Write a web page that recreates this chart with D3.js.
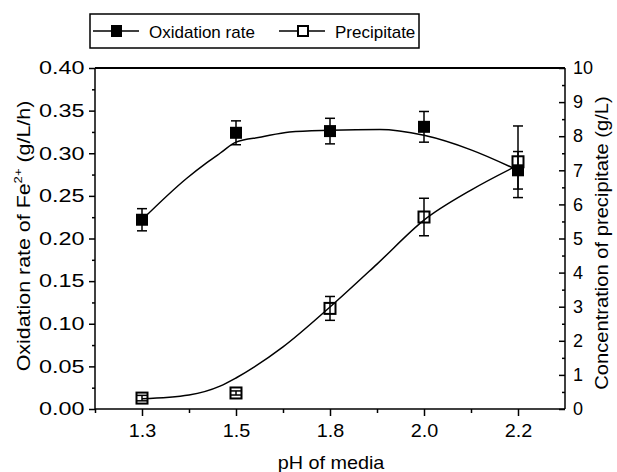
<!DOCTYPE html>
<style>
  body { margin: 0; background: #fff; }
  text { font-family: "Liberation Sans", Arial, sans-serif; fill: #000; }
  .axis path, .axis line { stroke: #000; stroke-width: 1.5; }
</style>
<svg width="617" height="472"></svg>
<script src="https://cdnjs.cloudflare.com/ajax/libs/d3/7.8.5/d3.min.js"></script>
<script>

// data
var phLabels = ["1.3", "1.5", "1.8", "2.0", "2.2"];
var oxRate = [0.222, 0.324, 0.326, 0.331, 0.280];
var oxErr = [0.013, 0.014, 0.015, 0.018, 0.022];
var precip = [0.32, 0.47, 2.95, 5.63, 7.25];
var precipErr = [0.08, 0.06, 0.35, 0.55, 1.05];

// fitted curves (x in category index)
var oxFitX = [0, 0.48, 0.69, 0.83, 1, 1.27, 1.57, 2, 2.53, 3, 3.5, 4];
var oxFitY = [0.222, 0.271, 0.289, 0.300, 0.313, 0.319, 0.325, 0.327, 0.328, 0.321, 0.304, 0.280];
var prFitX = [0, 0.5, 0.83, 1, 1.5, 2, 2.5, 3, 3.5, 4];
var prFitY = [0.30, 0.41, 0.67, 0.91, 1.82, 2.99, 4.25, 5.54, 6.42, 7.15];

var svg = d3.select("svg"),
    margin = {top: 68, right: 52, bottom: 63, left: 95},
    width = +svg.attr("width") - margin.left - margin.right,
    height = +svg.attr("height") - margin.top - margin.bottom,
    g = svg.append("g").attr("transform", "translate(" + margin.left + "," + margin.top + ")");

var x = d3.scaleLinear().domain([-0.5, 4.5]).range([0, width]);
var yL = d3.scaleLinear().domain([0, 0.4]).range([height, 0]);
var yR = d3.scaleLinear().domain([0, 10]).range([height, 0]);

// minor ticks
g.append("g")
    .attr("class", "axis")
    .attr("transform", "translate(0," + height + ")")
    .call(d3.axisBottom(x).tickValues([-0.5, 0.5, 1.5, 2.5, 3.5]).tickSize(4).tickFormat(""))
    .select(".domain").remove();
g.append("g")
    .attr("class", "axis")
    .call(d3.axisLeft(yL).tickValues(d3.range(0.025, 0.4, 0.05)).tickSize(3).tickFormat(""))
    .select(".domain").remove();
g.append("g")
    .attr("class", "axis")
    .attr("transform", "translate(" + width + ",0)")
    .call(d3.axisLeft(yR).tickValues(d3.range(0.5, 10, 1)).tickSize(3).tickFormat(""))
    .select(".domain").remove();

// main axes
var xAxis = g.append("g")
    .attr("class", "axis")
    .attr("transform", "translate(0," + height + ")")
    .call(d3.axisBottom(x).tickValues(d3.range(0, 5)).tickSize(7).tickPadding(8)
      .tickFormat(function(d) { return phLabels[d]; }));
xAxis.select(".domain").attr("d", "M0,0H" + width);
xAxis.selectAll("text").style("font-size", "18px").attr("transform", "scale(1.1,1)");

var yAxisL = g.append("g")
    .attr("class", "axis")
    .call(d3.axisLeft(yL).ticks(8).tickSize(6).tickPadding(2).tickFormat(d3.format(".2f")));
yAxisL.select(".domain").attr("d", "M0,0V" + height);
yAxisL.selectAll("text").style("font-size", "18px").attr("transform", "scale(1.3,1)");

var yAxisR = g.append("g")
    .attr("class", "axis")
    .attr("transform", "translate(" + width + ",0)")
    .call(d3.axisRight(yR).ticks(10).tickSize(-6).tickPadding(8));
yAxisR.select(".domain").attr("d", "M0,0V" + height);
yAxisR.selectAll("text").style("font-size", "18px");

// top frame line
g.append("line")
    .attr("x1", 0).attr("x2", width)
    .attr("y1", 0).attr("y2", 0)
    .attr("stroke", "#000").attr("stroke-width", 2);

// fitted lines
var oxLine = d3.line()
    .x(function(d, i) { return x(oxFitX[i]); })
    .y(function(d) { return yL(d); })
    .curve(d3.curveMonotoneX);
var prLine = d3.line()
    .x(function(d, i) { return x(prFitX[i]); })
    .y(function(d) { return yR(d); })
    .curve(d3.curveMonotoneX);

g.append("path")
    .datum(oxFitY)
    .attr("fill", "none")
    .attr("stroke", "#000")
    .attr("stroke-width", 1.5)
    .attr("d", oxLine);

g.append("path")
    .datum(prFitY)
    .attr("fill", "none")
    .attr("stroke", "#000")
    .attr("stroke-width", 1.5)
    .attr("d", prLine);

// error bars
function errBars(vals, errs, y) {
  var eb = g.append("g").attr("stroke", "#000").attr("stroke-width", 1.5);
  vals.forEach(function(v, i) {
    var cx = x(i), top = y(v + errs[i]), bot = y(v - errs[i]);
    eb.append("line").attr("x1", cx).attr("x2", cx).attr("y1", top).attr("y2", bot);
    eb.append("line").attr("x1", cx - 5).attr("x2", cx + 5).attr("y1", top).attr("y2", top);
    eb.append("line").attr("x1", cx - 5).attr("x2", cx + 5).attr("y1", bot).attr("y2", bot);
  });
}
errBars(oxRate, oxErr, yL);
errBars(precip, precipErr, yR);

// markers
g.selectAll(".pr")
    .data(precip)
  .enter().append("rect")
    .attr("x", function(d, i) { return x(i) - 5.5; })
    .attr("y", function(d) { return yR(d) - 5.5; })
    .attr("width", 11).attr("height", 11)
    .attr("fill", "none")
    .attr("stroke", "#000").attr("stroke-width", 2);

g.selectAll(".ox")
    .data(oxRate)
  .enter().append("rect")
    .attr("x", function(d, i) { return x(i) - 6; })
    .attr("y", function(d) { return yL(d) - 6; })
    .attr("width", 12).attr("height", 12)
    .attr("fill", "#000");

// axis titles
svg.append("text")
    .attr("transform", "translate(331,469) scale(1.1,1)")
    .attr("text-anchor", "middle")
    .style("font-size", "18px")
    .text("pH of media");

var tl = svg.append("text")
    .attr("transform", "translate(30,236) rotate(-90) scale(1.19,1)")
    .attr("text-anchor", "middle")
    .style("font-size", "18px");
tl.append("tspan").text("Oxidation rate of Fe");
tl.append("tspan").attr("dy", "-8").style("font-size", "11px").text("2+");
tl.append("tspan").attr("dy", "8").text(" (g/L/h)");

svg.append("text")
    .attr("transform", "translate(608,243) rotate(-90) scale(1.12,1)")
    .attr("text-anchor", "middle")
    .style("font-size", "18px")
    .text("Concentration of precipitate (g/L)");

// legend
var lg = svg.append("g");
lg.append("rect")
    .attr("x", 90).attr("y", 14).attr("width", 329).attr("height", 34)
    .attr("fill", "#fff").attr("stroke", "#000").attr("stroke-width", 1.5);
var legendItems = [
  {name: "Oxidation rate", x0: 93, filled: true},
  {name: "Precipitate", x0: 279, filled: false}
];
legendItems.forEach(function(it) {
  lg.append("line").attr("x1", it.x0).attr("x2", it.x0 + 46).attr("y1", 31).attr("y2", 31)
    .attr("stroke", "#000").attr("stroke-width", 1.5);
  if (it.filled) {
    lg.append("rect").attr("x", it.x0 + 18).attr("y", 25).attr("width", 11).attr("height", 12).attr("fill", "#000");
  } else {
    lg.append("rect").attr("x", it.x0 + 19).attr("y", 26).attr("width", 10).attr("height", 10)
      .attr("fill", "#fff").attr("stroke", "#000").attr("stroke-width", 2);
  }
  lg.append("text").attr("x", it.x0 + 56).attr("y", 38).style("font-size", "17px").text(it.name);
});

</script>
